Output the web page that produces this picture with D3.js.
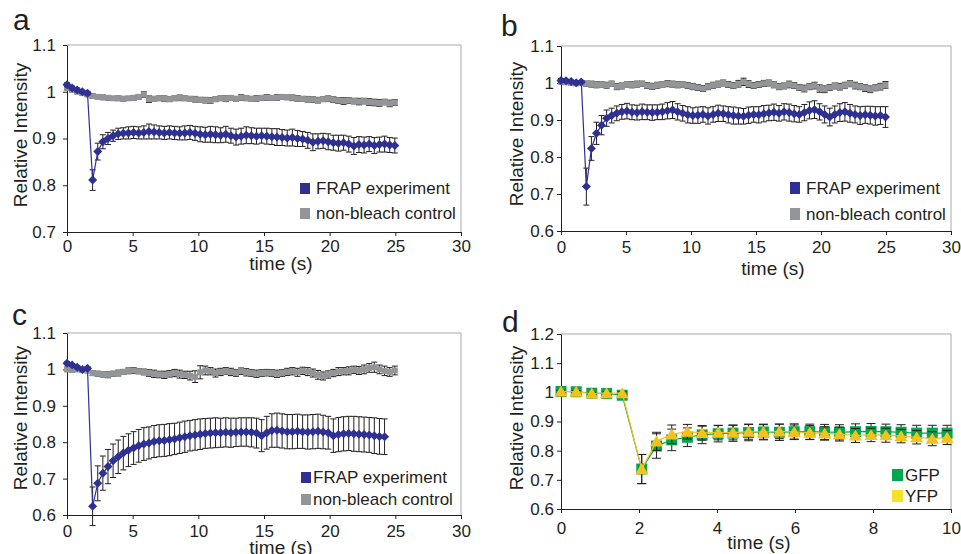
<!DOCTYPE html>
<html>
<head>
<meta charset="utf-8">
<script src="https://cdn.jsdelivr.net/npm/d3@7"></script>
<style>
  body { margin: 0; background: #fff; }
  svg text { font-family: Arial, "Liberation Sans", sans-serif; fill: #231f20; }
</style>
</head>
<body>
<div id="chart"></div>
<script>
// ---- Data ----
const tABC = [0, 0.39, 0.78, 1.17, 1.56, 1.95, 2.34, 2.73, 3.12, 3.51,
  3.9, 4.29, 4.68, 5.07, 5.46, 5.85, 6.24, 6.63, 7.02, 7.41,
  7.8, 8.19, 8.58, 8.97, 9.36, 9.75, 10.14, 10.53, 10.92, 11.31,
  11.7, 12.09, 12.48, 12.87, 13.26, 13.65, 14.04, 14.43, 14.82, 15.21,
  15.6, 15.99, 16.38, 16.77, 17.16, 17.55, 17.94, 18.33, 18.72, 19.11,
  19.5, 19.89, 20.28, 20.67, 21.06, 21.45, 21.84, 22.23, 22.62, 23.01,
  23.4, 23.79, 24.18, 24.57, 24.96];

// panel a
const aFrap = [1.015, 1.008, 1.004, 1.0, 0.997, 0.811, 0.872, 0.893, 0.900, 0.906,
  0.910, 0.911, 0.912, 0.913, 0.912, 0.913, 0.915, 0.914, 0.913, 0.912,
  0.913, 0.912, 0.911, 0.912, 0.913, 0.911, 0.909, 0.908, 0.909, 0.908,
  0.907, 0.909, 0.906, 0.903, 0.905, 0.907, 0.906, 0.905, 0.906, 0.905,
  0.904, 0.903, 0.902, 0.901, 0.902, 0.900, 0.899, 0.896, 0.892, 0.894,
  0.895, 0.893, 0.891, 0.890, 0.891, 0.888, 0.884, 0.887, 0.886, 0.888,
  0.885, 0.887, 0.888, 0.886, 0.885];
const aFrapErr = [0.004, 0.004, 0.004, 0.003, 0.004, 0.022, 0.018, 0.015, 0.013, 0.012,
  0.012, 0.012, 0.013, 0.013, 0.013, 0.014, 0.016, 0.015, 0.014, 0.014,
  0.014, 0.014, 0.014, 0.015, 0.015, 0.015, 0.016, 0.016, 0.017, 0.017,
  0.016, 0.017, 0.016, 0.017, 0.017, 0.018, 0.017, 0.017, 0.016, 0.017,
  0.017, 0.018, 0.017, 0.017, 0.018, 0.017, 0.016, 0.017, 0.018, 0.016,
  0.016, 0.017, 0.016, 0.017, 0.016, 0.017, 0.018, 0.017, 0.017, 0.016,
  0.017, 0.016, 0.017, 0.016, 0.016];
const aCtrl = [1.008, 1.004, 1.0, 0.997, 0.994, 0.991, 0.989, 0.988, 0.987, 0.986,
  0.986, 0.985, 0.986, 0.987, 0.989, 0.994, 0.984, 0.985, 0.986, 0.985,
  0.984, 0.986, 0.987, 0.986, 0.985, 0.984, 0.983, 0.982, 0.981, 0.984,
  0.986, 0.985, 0.987, 0.985, 0.988, 0.986, 0.985, 0.986, 0.987, 0.988,
  0.987, 0.988, 0.989, 0.988, 0.987, 0.986, 0.985, 0.984, 0.983, 0.982,
  0.984, 0.985, 0.983, 0.981, 0.980, 0.981, 0.980, 0.979, 0.980, 0.978,
  0.977, 0.976, 0.978, 0.975, 0.977];
const aCtrlErr = [0.004, 0.004, 0.004, 0.004, 0.004, 0.005, 0.004, 0.005, 0.005, 0.004,
  0.005, 0.005, 0.004, 0.005, 0.005, 0.006, 0.007, 0.005, 0.005, 0.006,
  0.005, 0.005, 0.006, 0.005, 0.005, 0.006, 0.005, 0.006, 0.006, 0.005,
  0.005, 0.006, 0.005, 0.005, 0.006, 0.005, 0.005, 0.006, 0.005, 0.006,
  0.005, 0.006, 0.005, 0.005, 0.006, 0.006, 0.005, 0.006, 0.006, 0.006,
  0.005, 0.006, 0.006, 0.006, 0.007, 0.006, 0.006, 0.007, 0.006, 0.007,
  0.007, 0.007, 0.006, 0.007, 0.006];

// panel b
const bFrap = [1.007, 1.006, 1.004, 1.001, 1.003, 0.720, 0.823, 0.864, 0.886, 0.905,
  0.912, 0.918, 0.922, 0.924, 0.921, 0.920, 0.922, 0.921, 0.920, 0.921,
  0.922, 0.925, 0.927, 0.922, 0.918, 0.914, 0.912, 0.913, 0.915, 0.911,
  0.915, 0.918, 0.917, 0.914, 0.912, 0.911, 0.910, 0.913, 0.915, 0.914,
  0.917, 0.919, 0.921, 0.918, 0.922, 0.920, 0.917, 0.915, 0.920, 0.926,
  0.928, 0.922, 0.915, 0.908, 0.915, 0.920, 0.922, 0.918, 0.915, 0.912,
  0.914, 0.913, 0.911, 0.912, 0.908];
const bFrapErr = [0.005, 0.004, 0.004, 0.004, 0.004, 0.050, 0.032, 0.030, 0.026, 0.022,
  0.020, 0.020, 0.020, 0.021, 0.020, 0.020, 0.021, 0.020, 0.021, 0.020,
  0.021, 0.022, 0.023, 0.022, 0.021, 0.022, 0.021, 0.022, 0.021, 0.022,
  0.021, 0.022, 0.021, 0.022, 0.023, 0.022, 0.021, 0.022, 0.021, 0.022,
  0.022, 0.021, 0.022, 0.021, 0.022, 0.023, 0.022, 0.021, 0.022, 0.023,
  0.024, 0.022, 0.023, 0.024, 0.023, 0.024, 0.025, 0.024, 0.023, 0.024,
  0.023, 0.024, 0.025, 0.024, 0.028];
const bCtrl = [1.003, 1.002, 1.000, 0.999, 1.000, 0.998, 0.997, 0.995, 0.996, 0.994,
  0.998, 0.990, 0.992, 0.996, 0.995, 0.997, 0.998, 0.993, 0.991, 0.994,
  0.996, 0.998, 0.997, 0.995, 0.996, 0.993, 0.990, 0.988, 0.985, 0.990,
  0.994, 0.997, 1.000, 0.996, 0.993, 0.998, 1.003, 0.997, 0.993, 0.996,
  0.999, 1.000, 0.995, 0.990, 0.992, 0.996, 0.993, 0.988, 0.985, 0.990,
  0.993, 0.985, 0.983, 0.988, 0.992, 0.990, 0.994, 0.998, 0.993, 0.990,
  0.986, 0.983, 0.987, 0.990, 0.995];
const bCtrlErr = [0.006, 0.006, 0.006, 0.006, 0.006, 0.007, 0.008, 0.008, 0.007, 0.008,
  0.007, 0.008, 0.008, 0.007, 0.008, 0.008, 0.007, 0.008, 0.008, 0.008,
  0.007, 0.008, 0.008, 0.008, 0.007, 0.008, 0.008, 0.008, 0.008, 0.008,
  0.008, 0.008, 0.008, 0.008, 0.008, 0.009, 0.010, 0.009, 0.008, 0.008,
  0.008, 0.008, 0.008, 0.008, 0.008, 0.009, 0.008, 0.008, 0.009, 0.008,
  0.009, 0.010, 0.009, 0.008, 0.008, 0.009, 0.008, 0.008, 0.009, 0.008,
  0.009, 0.009, 0.008, 0.009, 0.009];

// panel c
const cFrap = [1.017, 1.012, 1.006, 1.000, 1.003, 0.624, 0.687, 0.715, 0.733, 0.749,
  0.760, 0.770, 0.778, 0.784, 0.790, 0.795, 0.798, 0.802, 0.804, 0.805,
  0.807, 0.809, 0.812, 0.815, 0.818, 0.820, 0.822, 0.824, 0.825, 0.826,
  0.826, 0.827, 0.826, 0.827, 0.828, 0.828, 0.827, 0.825, 0.818, 0.826,
  0.832, 0.833, 0.831, 0.829, 0.829, 0.830, 0.829, 0.828, 0.829, 0.830,
  0.828, 0.826, 0.818, 0.821, 0.823, 0.824, 0.823, 0.822, 0.821, 0.820,
  0.818, 0.816, 0.815];
const cFrapErr = [0.004, 0.004, 0.004, 0.004, 0.004, 0.053, 0.048, 0.047, 0.047, 0.046,
  0.046, 0.046, 0.045, 0.045, 0.045, 0.045, 0.044, 0.044, 0.044, 0.044,
  0.044, 0.043, 0.043, 0.043, 0.042, 0.042, 0.042, 0.041, 0.041, 0.041,
  0.040, 0.040, 0.040, 0.039, 0.039, 0.039, 0.040, 0.041, 0.044, 0.045,
  0.046, 0.047, 0.047, 0.047, 0.047, 0.047, 0.046, 0.047, 0.047, 0.047,
  0.046, 0.045, 0.046, 0.047, 0.047, 0.047, 0.048, 0.048, 0.048, 0.048,
  0.049, 0.049, 0.049];
const cCtrl = [1.000, 0.999, 1.000, 0.998, 0.997, 0.990, 0.988, 0.986, 0.985, 0.988,
  0.990, 0.993, 0.996, 0.997, 0.995, 0.993, 0.990, 0.988, 0.986, 0.985,
  0.988, 0.990, 0.987, 0.985, 0.983, 0.980, 0.992, 0.997, 0.995, 0.990,
  0.993, 0.996, 0.993, 0.990, 0.995, 0.992, 0.990, 0.988, 0.990, 0.991,
  0.990, 0.988, 0.990, 0.993, 0.995, 0.992, 0.996, 0.994, 0.990, 0.985,
  0.982, 0.986, 0.990, 0.994, 0.995, 0.996, 0.999, 0.997, 1.000, 1.004,
  1.006, 1.000, 0.996, 0.993, 0.997];
const cCtrlErr = [0.006, 0.006, 0.006, 0.006, 0.006, 0.007, 0.007, 0.007, 0.008, 0.007,
  0.008, 0.007, 0.008, 0.008, 0.007, 0.008, 0.009, 0.010, 0.009, 0.010,
  0.009, 0.010, 0.011, 0.010, 0.012, 0.016, 0.018, 0.012, 0.010, 0.011,
  0.010, 0.009, 0.010, 0.009, 0.009, 0.010, 0.009, 0.010, 0.009, 0.009,
  0.009, 0.010, 0.009, 0.010, 0.010, 0.011, 0.010, 0.011, 0.011, 0.012,
  0.011, 0.010, 0.010, 0.011, 0.010, 0.011, 0.010, 0.011, 0.012, 0.012,
  0.014, 0.012, 0.013, 0.012, 0.012];

// panel d
const tD = [0, 0.39, 0.79, 1.17, 1.57, 2.07, 2.45, 2.84, 3.24, 3.62,
  4.03, 4.41, 4.81, 5.19, 5.6, 5.98, 6.38, 6.76, 7.14, 7.55,
  7.95, 8.33, 8.72, 9.12, 9.52, 9.9];
const gfp = [1.003, 1.002, 0.997, 0.996, 0.990, 0.737, 0.816, 0.837, 0.846, 0.854,
  0.858, 0.860, 0.862, 0.864, 0.863, 0.865, 0.865, 0.864, 0.863, 0.865,
  0.866, 0.865, 0.863, 0.860, 0.860, 0.860];
const gfpErr = [0.004, 0.004, 0.004, 0.004, 0.005, 0.050, 0.042, 0.037, 0.032, 0.030,
  0.028, 0.028, 0.028, 0.027, 0.028, 0.027, 0.026, 0.026, 0.026, 0.027,
  0.027, 0.026, 0.026, 0.027, 0.027, 0.027];
const yfp = [1.003, 1.002, 0.996, 0.997, 0.997, 0.737, 0.832, 0.856, 0.865, 0.861,
  0.862, 0.862, 0.865, 0.864, 0.866, 0.864, 0.862, 0.859, 0.857, 0.852,
  0.854, 0.853, 0.850, 0.846, 0.841, 0.845];
const yfpErr = [0.004, 0.004, 0.004, 0.004, 0.005, 0.050, 0.031, 0.032, 0.025, 0.025,
  0.025, 0.025, 0.026, 0.025, 0.025, 0.024, 0.024, 0.023, 0.024, 0.024,
  0.023, 0.024, 0.023, 0.023, 0.024, 0.024];

// ticks and labels
const xTicksABC = [0, 5, 10, 15, 20, 25, 30];
const xTicksD = [0, 2, 4, 6, 8, 10];
const yTicksA = [0.7, 0.8, 0.9, 1, 1.1];
const yTicksBC = [0.6, 0.7, 0.8, 0.9, 1, 1.1];
const yTicksD = [0.6, 0.7, 0.8, 0.9, 1, 1.1, 1.2];
const legendABC = ["FRAP experiment", "non-bleach control"];
const legendD = ["GFP", "YFP"];

// ---- Styles ----
const BLUE = "#2e3192", GREY = "#939598", GREEN = "#00a651", GOLD = "#f6c11d", YELLOW = "#f4e22a";
const INK = "#231f20";

const svg = d3.select("#chart").append("svg")
  .attr("width", 961)
  .attr("height", 554);

// marker shapes (Excel-like)
const shape = {
  diamond: r => `M0,${-r}L${r},0L0,${r}L${-r},0Z`,
  square: r => `M${-r},${-r}H${r}V${r}H${-r}Z`,
  triangle: r => `M0,${-r}L${r * 1.1},${r * 0.85}H${-r * 1.1}Z`
};

const panels = [
  { letter: "a", lx: 13, ly: 30, x0: 67, x1: 461, yT: 45, yB: 232, xMax: 30, yMin: 0.7, yMax: 1.1,
    xTicks: xTicksABC, yTicks: yTicksA, yPad: 7, xPad: 4, titleY: 270, titleX: 281, yTitleX: 27, yTitleY: 135,
    cap: 3, series: [
      { t: tABC, v: aCtrl, e: aCtrlErr, shape: "square", r: 3, color: GREY, line: GREY },
      { t: tABC, v: aFrap, e: aFrapErr, shape: "diamond", r: 4.5, color: BLUE, line: BLUE }
    ],
    legend: { x: 300, y: 183, gap: 25, labels: legendABC, colors: [BLUE, GREY], w: 10, h: 11, tx: 316 } },
  { letter: "b", lx: 501, ly: 36, x0: 561, x1: 951, yT: 46, yB: 231, xMax: 30, yMin: 0.6, yMax: 1.1,
    xTicks: xTicksABC, yTicks: yTicksBC, yPad: 3, xPad: 6, titleY: 275, titleX: 773, yTitleX: 523, yTitleY: 134,
    cap: 3, series: [
      { t: tABC, v: bCtrl, e: bCtrlErr, shape: "square", r: 3, color: GREY, line: GREY },
      { t: tABC, v: bFrap, e: bFrapErr, shape: "diamond", r: 4.5, color: BLUE, line: BLUE }
    ],
    legend: { x: 790, y: 182, gap: 26, labels: legendABC, colors: [BLUE, GREY], w: 10, h: 12, tx: 806 } },
  { letter: "c", lx: 12, ly: 325, x0: 67, x1: 461, yT: 333, yB: 515, xMax: 30, yMin: 0.6, yMax: 1.1,
    xTicks: xTicksABC, yTicks: yTicksBC, yPad: 7, xPad: 6, titleY: 554, titleX: 281, yTitleX: 27, yTitleY: 418,
    cap: 3, series: [
      { t: tABC, v: cCtrl, e: cCtrlErr, shape: "square", r: 3, color: GREY, line: GREY },
      { t: tABC, v: cFrap, e: cFrapErr, shape: "diamond", r: 4.5, color: BLUE, line: BLUE }
    ],
    legend: { x: 301, y: 472, gap: 22, labels: legendABC, colors: [BLUE, GREY], w: 10, h: 11, tx: 313 } },
  { letter: "d", lx: 502, ly: 332, x0: 561, x1: 951, yT: 334, yB: 509, xMax: 10, yMin: 0.6, yMax: 1.2,
    xTicks: xTicksD, yTicks: yTicksD, yPad: 3, xPad: 9, titleY: 549, titleX: 759, yTitleX: 523, yTitleY: 418,
    cap: 4.5, series: [
      { t: tD, v: gfp, e: gfpErr, shape: "square", r: 5.5, color: GREEN, line: GREEN },
      { t: tD, v: yfp, e: yfpErr, shape: "triangle", r: 6, color: GOLD, line: GOLD }
    ],
    legend: { x: 892, y: 469, gap: 21, labels: legendD, colors: [GREEN, YELLOW], w: 11, h: 12, tx: 905 } }
];

panels.forEach(p => {
  const x = d3.scaleLinear().domain([0, p.xMax]).range([p.x0, p.x1]);
  const y = d3.scaleLinear().domain([p.yMin, p.yMax]).range([p.yB, p.yT]);
  const g = svg.append("g");

  // --- grey frame on top/right ---
  g.append("path")
    .attr("d", `M${p.x0},${p.yT}H${p.x1}V${p.yB}`)
    .attr("fill", "none")
    .attr("stroke", "#a7a9ac")
    .attr("stroke-width", 1);

  // --- axes ---
  const yAx = g.append("g")
    .attr("transform", `translate(${p.x0},0)`)
    .call(d3.axisLeft(y).tickValues(p.yTicks).tickFormat(d => String(d))
      .tickSize(4).tickSizeOuter(0).tickPadding(p.yPad));
  const xAx = g.append("g")
    .attr("transform", `translate(0,${p.yB})`)
    .call(d3.axisBottom(x).tickValues(p.xTicks).tickFormat(d => String(d))
      .tickSize(4).tickSizeOuter(0).tickPadding(p.xPad));
  [yAx, xAx].forEach(ax => {
    ax.select(".domain").attr("stroke", INK);
    ax.selectAll(".tick line").attr("stroke", INK);
    ax.selectAll("text").style("font-size", "17px").style("font-family", "Arial, 'Liberation Sans', sans-serif").attr("fill", INK);
  });

  // --- titles ---
  g.append("text")
    .attr("x", p.lx).attr("y", p.ly)
    .style("font-size", "30px")
    .text(p.letter);
  g.append("text")
    .attr("x", p.titleX).attr("y", p.titleY)
    .attr("text-anchor", "middle")
    .style("font-size", "19px")
    .text("time (s)");
  g.append("text")
    .attr("transform", `translate(${p.yTitleX},${p.yTitleY}) rotate(-90)`)
    .attr("text-anchor", "middle")
    .style("font-size", "19px")
    .text("Relative Intensity");

  // --- series: error bars, line, markers ---
  p.series.forEach(s => {
    const pts = s.v.map((v, i) => ({ t: s.t[i], v: v, e: s.e[i] }));

    const eb = g.append("g").attr("stroke", INK).attr("stroke-width", 1).attr("fill", "none");
    eb.selectAll("path")
      .data(pts)
      .enter()
      .append("path")
      .attr("d", d => {
        const cx = x(d.t), hi = y(d.v + d.e), lo = y(d.v - d.e);
        return `M${cx},${hi}V${lo}M${cx - p.cap},${hi}H${cx + p.cap}M${cx - p.cap},${lo}H${cx + p.cap}`;
      });

    g.append("path")
      .datum(pts)
      .attr("fill", "none")
      .attr("stroke", s.line)
      .attr("stroke-width", 1.2)
      .attr("d", d3.line().x(d => x(d.t)).y(d => y(d.v)));

    g.append("g").selectAll("path")
      .data(pts)
      .enter()
      .append("path")
      .attr("transform", d => `translate(${x(d.t)},${y(d.v)})`)
      .attr("d", shape[s.shape](s.r))
      .attr("fill", s.color);
  });

  // --- legend ---
  const lg = g.selectAll(".legend")
    .data(p.legend.labels)
    .enter()
    .append("g")
    .attr("transform", (d, i) => `translate(0,${p.legend.y + i * p.legend.gap})`);
  lg.append("rect")
    .attr("x", p.legend.x)
    .attr("y", 0)
    .attr("width", p.legend.w)
    .attr("height", p.legend.h)
    .attr("fill", (d, i) => p.legend.colors[i]);
  lg.append("text")
    .attr("x", p.legend.tx)
    .attr("y", p.legend.h)
    .style("font-size", "17px")
    .text(d => d);
});
</script>
</body>
</html>
